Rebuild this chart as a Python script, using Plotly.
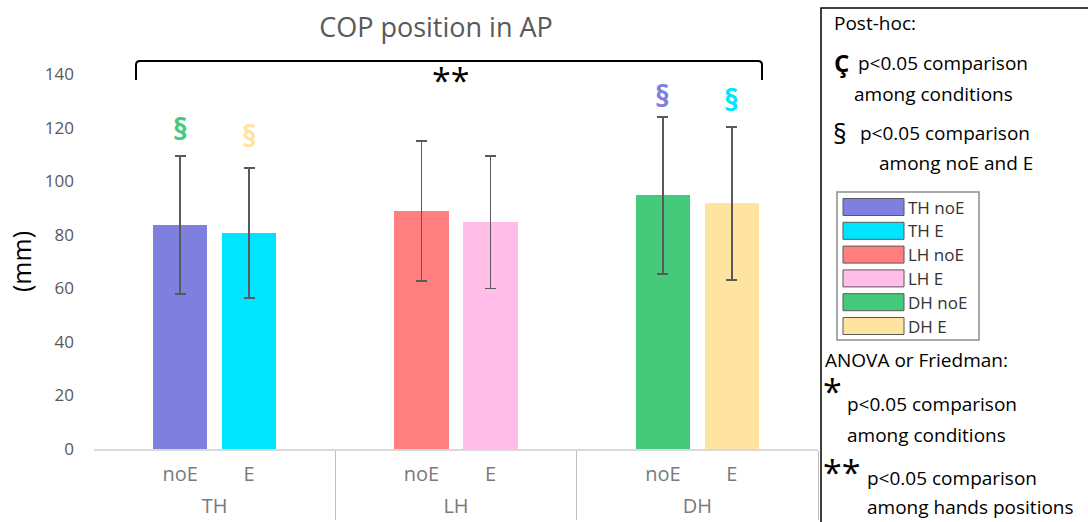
import plotly.graph_objects as go

# ---------------- data ----------------
groups = ["TH", "LH", "DH"]
conditions = ["noE", "E"]
noE_mean = [83.6, 88.8, 94.7]
E_mean = [80.6, 84.7, 91.7]
noE_sd = [25.8, 26.2, 29.3]
E_sd = [24.2, 24.8, 28.5]
noE_colors = ["#7f7fe0", "#ff7f7f", "#45c97a"]
E_colors = ["#00e5ff", "#ffbde8", "#ffe4a1"]
y_ticks = [0, 20, 40, 60, 80, 100, 120, 140]

# significance marks (group, condition, y position, colour)
sig_group = ["TH", "TH", "DH", "DH"]
sig_cond = ["noE", "E", "noE", "E"]
sig_y = [119.5, 117.0, 132.0, 130.3]
sig_color = ["#45c97a", "#ffe4a1", "#7f7fe0", "#00e5ff"]

# ---------------- layout helpers ----------------
FW, FH = 1088, 522
L, T, W, H = 94, 74, 724, 375
def fx(px):
    return (px - L) / W
def fy(py):
    return (T + H - py) / H

# each group laid out on 7 slots; bars at slots 2 and 4
NB = "\u00a0"
slot_names = [NB, NB * 2, "noE", NB * 3 + f"<span style='font-size:26px'>{NB}</span>",
              "E", NB * 4, NB * 5]
cond_slot = {"noE": 2, "E": 4}
xg, xs, yv, ev, cv = [], [], [], [], []
for gi, g in enumerate(groups):
    for s in slot_names:
        xg.append(g)
        xs.append(s)
        if s == "noE":
            yv.append(noE_mean[gi]); ev.append(noE_sd[gi]); cv.append(noE_colors[gi])
        elif s == "E":
            yv.append(E_mean[gi]); ev.append(E_sd[gi]); cv.append(E_colors[gi])
        else:
            yv.append(None); ev.append(None); cv.append("rgba(0,0,0,0)")
n_slots = len(slot_names)
n_total = n_slots * len(groups)

fig = go.Figure()
fig.add_trace(go.Bar(
    x=[xg, xs], y=yv, width=1.58,
    marker=dict(color=cv, line=dict(width=0)),
    error_y=dict(type="data", array=ev, visible=True, color="#595959",
                 thickness=1.8, width=5.5),
    showlegend=False, hoverinfo="skip",
))

annotations = []
# § marks above bars
for g, c, yy, col in zip(sig_group, sig_cond, sig_y, sig_color):
    idx = groups.index(g) * n_slots + cond_slot[c]
    annotations.append(dict(x=idx, y=yy, xref="x", yref="y", text="<b>§</b>",
                            showarrow=False, font=dict(size=30, color=col),
                            xanchor="center", yanchor="middle"))

# bracket **
annotations.append(dict(x=fx(450), y=fy(80), xref="paper", yref="paper", text="**",
                        showarrow=False, font=dict(size=34, color="black"),
                        xanchor="center", yanchor="middle"))

# right panel texts
panel = [
    (832, 23, "Post-hoc:", 19),
    (832, 63, "<b>Ç</b>", 24),
    (856, 63, "p<0.05 comparison", 19),
    (852, 94, "among conditions", 19),
    (831, 133, "§", 27),
    (858, 133, "p<0.05 comparison", 19),
    (877, 163, "among noE and E", 19),
    (823, 360, "ANOVA or Friedman:", 19),
    (821, 391, "*", 34),
    (845, 404, "p<0.05 comparison", 19),
    (845, 435, "among conditions", 19),
    (821, 472, "**", 34),
    (865, 478, "p<0.05 comparison", 19),
    (865, 507, "among hands positions", 19),
]
for px, py, txt, sz in panel:
    annotations.append(dict(x=fx(px), y=fy(py), xref="paper", yref="paper", text=txt,
                            showarrow=False, font=dict(size=sz, color="black"),
                            xanchor="left", yanchor="middle"))

shapes = []
# bracket path
x0, x1, yt, yb = fx(136), fx(762), fy(61), fy(80)
rx, ry = 4 / W, 4 / H
path = (f"M {x0},{yb} L {x0},{yt - ry} Q {x0},{yt} {x0 + rx},{yt} "
        f"L {x1 - rx},{yt} Q {x1},{yt} {x1},{yt - ry} L {x1},{yb}")
shapes.append(dict(type="path", path=path, xref="paper", yref="paper",
                   line=dict(color="black", width=2)))
# hide the outer left divider (reference has none there)
shapes.append(dict(type="rect", xref="paper", yref="paper",
                   x0=fx(88), x1=fx(96), y0=fy(451), y1=fy(530),
                   fillcolor="white", line=dict(width=0), layer="above"))
# panel frame
shapes.append(dict(type="rect", xref="paper", yref="paper",
                   x0=fx(821), x1=fx(1110), y0=fy(8), y1=fy(540),
                   line=dict(color="black", width=1.5)))
# legend box
shapes.append(dict(type="rect", xref="paper", yref="paper",
                   x0=fx(837), x1=fx(979), y0=fy(192), y1=fy(340),
                   line=dict(color="#8c8c8c", width=1.5)))
leg_labels = []
leg_colors = []
for gi, g in enumerate(groups):
    leg_labels += [f"{g} noE", f"{g} E"]
    leg_colors += [noE_colors[gi], E_colors[gi]]
for i, (lab, col) in enumerate(zip(leg_labels, leg_colors)):
    cy = 207 + i * 23.8
    shapes.append(dict(type="rect", xref="paper", yref="paper",
                       x0=fx(843), x1=fx(904), y0=fy(cy - 8.5), y1=fy(cy + 8.5),
                       fillcolor=col, line=dict(color="#595959", width=1)))
    annotations.append(dict(x=fx(906), y=fy(cy), xref="paper", yref="paper", text=lab,
                            showarrow=False, font=dict(size=17, color="#333333"),
                            xanchor="left", yanchor="middle"))

fig.update_layout(
    width=FW, height=FH,
    margin=dict(l=L, r=FW - L - W, t=T, b=FH - T - H, autoexpand=False),
    paper_bgcolor="white", plot_bgcolor="white",
    font=dict(family="Open Sans, sans-serif"),
    title=dict(text="COP position in AP", x=fx(436), xref="paper", xanchor="center",
               y=1 - 28 / FH, yref="container", yanchor="middle",
               font=dict(size=27, color="#595959")),
    xaxis=dict(type="multicategory", range=[-0.5, n_total - 0.5],
               showline=True, linecolor="#d9d9d9", linewidth=1.5,
               showgrid=False, ticks="", tickangle=0, showdividers=True,
               dividercolor="#bfbfbf", dividerwidth=1.2, ticklabelstandoff=6,
               tickfont=dict(size=20, color="#7a7a7a"), zeroline=False),
    yaxis=dict(range=[0, 140], tickvals=y_ticks, showgrid=False, zeroline=False,
               showline=False, ticks="", ticklabelstandoff=19,
               tickfont=dict(size=17, color="#595959"),
               title=dict(text="(mm)", font=dict(size=25, color="black"), standoff=6)),
    bargap=0,
    annotations=annotations,
    shapes=shapes,
)

fig.write_html("out.html", config={"displayModeBar": False},
               post_script="document.body.style.margin='0';document.body.style.overflow='hidden';")
